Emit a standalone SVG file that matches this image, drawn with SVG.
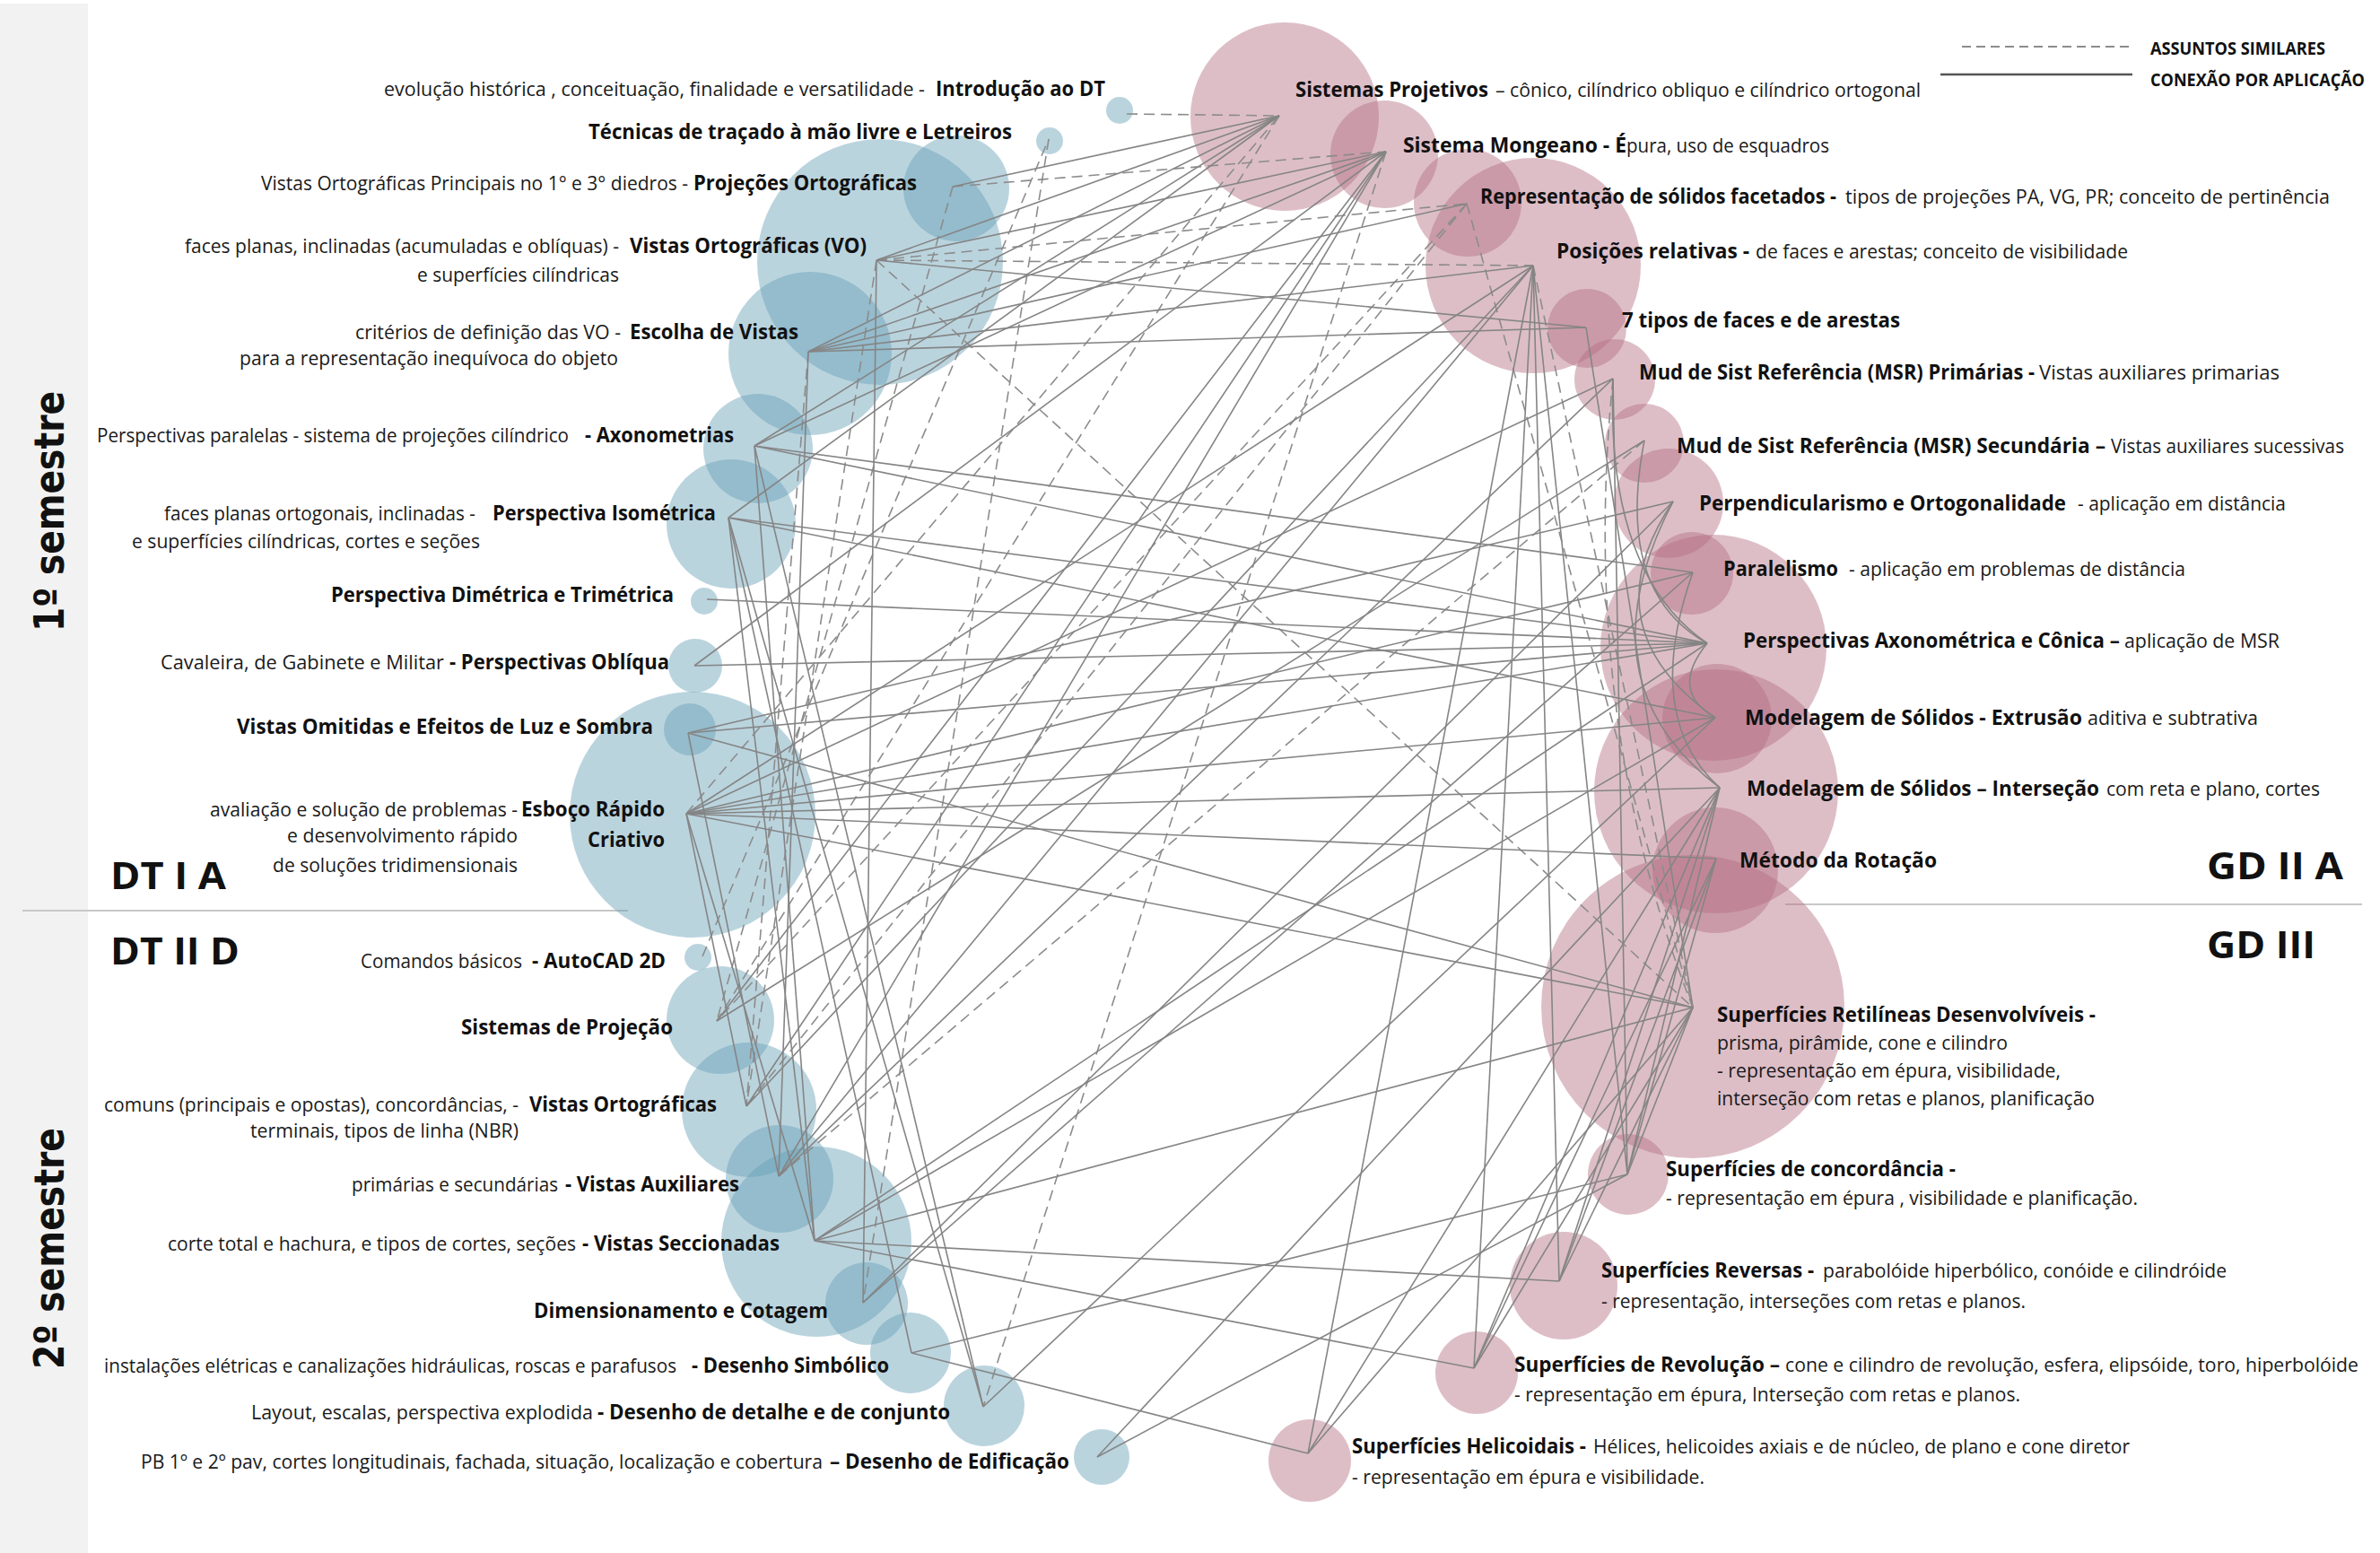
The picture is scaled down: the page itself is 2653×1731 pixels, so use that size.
<svg xmlns="http://www.w3.org/2000/svg" width="2653" height="1731" viewBox="0 0 2653 1731">
<style>
.t{font-family:'Open Sans','Noto Sans',sans-serif;font-size:22px;fill:#1a1a1a}
.b{font-family:'Open Sans','Noto Sans',sans-serif;font-size:23px;font-weight:700;fill:#111}
.big{font-family:'Open Sans','Noto Sans',sans-serif;font-size:42px;font-weight:700;fill:#111}
.sem{font-family:'DejaVu Sans',sans-serif;font-size:46px;font-weight:700;fill:#111}
.leg{font-family:'Open Sans','Noto Sans',sans-serif;font-size:19px;font-weight:700;fill:#111}
.cb{fill:rgb(102,159,182);fill-opacity:.45}
.cp{fill:rgb(180,110,130);fill-opacity:.45}
.s{stroke:#858585;stroke-width:1.6;fill:none}
.d{stroke:#8c8c8c;stroke-width:1.6;fill:none;stroke-dasharray:12 7}
</style>
<rect x="0" y="4" width="98" height="1727" fill="#f2f2f2"/>
<text class="sem" transform="translate(71,704) rotate(-90)" textLength="268" lengthAdjust="spacingAndGlyphs">1º semestre</text>
<text class="sem" transform="translate(71,1526) rotate(-90)" textLength="269" lengthAdjust="spacingAndGlyphs">2º semestre</text>
<line x1="25" y1="1015" x2="700" y2="1015" stroke="#c8c8c8" stroke-width="2"/>
<line x1="1990" y1="1008" x2="2633" y2="1008" stroke="#c8c8c8" stroke-width="2"/>

<g id="blue-circles">
<circle id="c-intro" class="cb" cx="1248" cy="123" r="15"/>
<circle id="c-tec" class="cb" cx="1170" cy="157" r="15"/>
<circle id="c-proj" class="cb" cx="1066" cy="210" r="59"/>
<circle id="c-vo" class="cb" cx="981" cy="292" r="137"/>
<circle id="c-esc" class="cb" cx="903" cy="394" r="91"/>
<circle id="c-axo" class="cb" cx="845" cy="500" r="61"/>
<circle id="c-iso" class="cb" cx="815" cy="584" r="72"/>
<circle id="c-dim" class="cb" cx="785" cy="670" r="15"/>
<circle id="c-obl" class="cb" cx="775" cy="742" r="30"/>
<circle id="c-esb" class="cb" cx="772" cy="908" r="137"/>
<circle id="c-omit" class="cb" cx="769" cy="813" r="29"/>
<circle id="c-auto" class="cb" cx="778" cy="1067" r="15"/>
<circle id="c-sisp" class="cb" cx="803" cy="1137" r="60"/>
<circle id="c-vo2" class="cb" cx="835" cy="1237" r="75"/>
<circle id="c-aux" class="cb" cx="869" cy="1314" r="60"/>
<circle id="c-sec" class="cb" cx="910" cy="1384" r="106"/>
<circle id="c-dimc" class="cb" cx="966" cy="1453" r="46"/>
<circle id="c-simb" class="cb" cx="1015" cy="1508" r="45"/>
<circle id="c-det" class="cb" cx="1097" cy="1567" r="45"/>
<circle id="c-edi" class="cb" cx="1228" cy="1624" r="31"/>
</g>
<g id="pink-circles">
<circle id="c-sp" class="cp" cx="1432" cy="130" r="105"/>
<circle id="c-mon" class="cp" cx="1543" cy="172" r="60"/>
<circle id="c-rep" class="cp" cx="1636" cy="226" r="60"/>
<circle id="c-pos" class="cp" cx="1709" cy="296" r="120"/>
<circle id="c-7t" class="cp" cx="1769" cy="366" r="44"/>
<circle id="c-msr1" class="cp" cx="1800" cy="423" r="45"/>
<circle id="c-msr2" class="cp" cx="1833" cy="494" r="44"/>
<circle id="c-perp" class="cp" cx="1860" cy="561" r="61"/>
<circle id="c-par" class="cp" cx="1886" cy="639" r="46"/>
<circle id="c-persp" class="cp" cx="1910" cy="722" r="126"/>
<circle id="c-ext" class="cp" cx="1914" cy="801" r="61"/>
<circle id="c-int" class="cp" cx="1913" cy="882" r="136"/>
<circle id="c-rot" class="cp" cx="1912" cy="970" r="70"/>
<circle id="c-ret" class="cp" cx="1887" cy="1122" r="169"/>
<circle id="c-conc" class="cp" cx="1815" cy="1309" r="45"/>
<circle id="c-rev" class="cp" cx="1743" cy="1433" r="60"/>
<circle id="c-revol" class="cp" cx="1646" cy="1530" r="46"/>
<circle id="c-hel" class="cp" cx="1460" cy="1628" r="46"/>
</g>

<g id="connectors">
<line class="d" x1="1256" y1="127" x2="1426" y2="129"/>
<line class="d" x1="1062" y1="208" x2="1545" y2="169"/>
<line class="d" x1="977" y1="290" x2="1635" y2="227"/>
<line class="d" x1="977" y1="290" x2="1709" y2="296"/>
<line class="d" x1="977" y1="290" x2="1887" y2="1123"/>
<line class="d" x1="1169" y1="155" x2="962" y2="1452"/>
<line class="d" x1="765" y1="907" x2="1426" y2="129"/>
<line class="d" x1="1062" y1="208" x2="799" y2="1138"/>
<line class="d" x1="977" y1="290" x2="832" y2="1233"/>
<line class="d" x1="901" y1="392" x2="832" y2="1233"/>
<line class="d" x1="1635" y1="227" x2="832" y2="1233"/>
<line class="d" x1="1635" y1="227" x2="799" y2="1138"/>
<line class="d" x1="1635" y1="227" x2="1887" y2="1123"/>
<line class="d" x1="783" y1="1066" x2="1169" y2="155"/>
<line class="d" x1="1545" y1="169" x2="1096" y2="1568"/>
<line class="d" x1="1426" y1="129" x2="799" y2="1138"/>
<line class="d" x1="1833" y1="491" x2="868" y2="1311"/>
<line class="d" x1="1709" y1="296" x2="1887" y2="1123"/>
<path class="d" d="M1798,422 Q1760,800 1887,1123"/>
<line class="s" x1="1062" y1="208" x2="1426" y2="129"/>
<line class="s" x1="977" y1="290" x2="1426" y2="129"/>
<line class="s" x1="901" y1="392" x2="1426" y2="129"/>
<line class="s" x1="841" y1="497" x2="1426" y2="129"/>
<line class="s" x1="977" y1="290" x2="1545" y2="169"/>
<line class="s" x1="977" y1="290" x2="1768" y2="365"/>
<line class="s" x1="977" y1="290" x2="962" y2="1452"/>
<line class="s" x1="901" y1="392" x2="1545" y2="169"/>
<line class="s" x1="901" y1="392" x2="1635" y2="227"/>
<line class="s" x1="901" y1="392" x2="1709" y2="296"/>
<line class="s" x1="901" y1="392" x2="1768" y2="365"/>
<line class="s" x1="901" y1="392" x2="868" y2="1311"/>
<line class="s" x1="841" y1="497" x2="1545" y2="169"/>
<line class="s" x1="841" y1="497" x2="1887" y2="638"/>
<line class="s" x1="841" y1="497" x2="1903" y2="717"/>
<line class="s" x1="841" y1="497" x2="1096" y2="1568"/>
<line class="s" x1="841" y1="497" x2="908" y2="1383"/>
<line class="s" x1="812" y1="577" x2="1903" y2="717"/>
<line class="s" x1="812" y1="577" x2="1912" y2="800"/>
<line class="s" x1="812" y1="577" x2="908" y2="1383"/>
<line class="s" x1="812" y1="577" x2="1096" y2="1568"/>
<line class="s" x1="812" y1="577" x2="1426" y2="129"/>
<line class="s" x1="788" y1="668" x2="1903" y2="717"/>
<line class="s" x1="774" y1="742" x2="1903" y2="717"/>
<line class="s" x1="774" y1="742" x2="1545" y2="169"/>
<line class="s" x1="767" y1="817" x2="1903" y2="717"/>
<line class="s" x1="767" y1="817" x2="1865" y2="559"/>
<line class="s" x1="767" y1="817" x2="1887" y2="1123"/>
<line class="s" x1="765" y1="907" x2="1903" y2="717"/>
<line class="s" x1="765" y1="907" x2="1912" y2="800"/>
<line class="s" x1="765" y1="907" x2="1917" y2="878"/>
<line class="s" x1="765" y1="907" x2="1913" y2="957"/>
<line class="s" x1="765" y1="907" x2="1887" y2="1123"/>
<line class="s" x1="765" y1="907" x2="1709" y2="296"/>
<line class="s" x1="765" y1="907" x2="1798" y2="422"/>
<line class="s" x1="765" y1="907" x2="1887" y2="638"/>
<line class="s" x1="765" y1="907" x2="908" y2="1383"/>
<line class="s" x1="765" y1="907" x2="832" y2="1233"/>
<line class="s" x1="799" y1="1138" x2="1545" y2="169"/>
<line class="s" x1="799" y1="1138" x2="1833" y2="491"/>
<line class="s" x1="832" y1="1233" x2="1709" y2="296"/>
<line class="s" x1="832" y1="1233" x2="1545" y2="169"/>
<line class="s" x1="868" y1="1311" x2="1545" y2="169"/>
<line class="s" x1="868" y1="1311" x2="1709" y2="296"/>
<line class="s" x1="868" y1="1311" x2="1798" y2="422"/>
<line class="s" x1="868" y1="1311" x2="767" y2="817"/>
<line class="s" x1="908" y1="1383" x2="1903" y2="717"/>
<line class="s" x1="908" y1="1383" x2="1912" y2="800"/>
<line class="s" x1="908" y1="1383" x2="1887" y2="1123"/>
<line class="s" x1="908" y1="1383" x2="1643" y2="1525"/>
<line class="s" x1="908" y1="1383" x2="1738" y2="1428"/>
<line class="s" x1="962" y1="1452" x2="1865" y2="559"/>
<line class="s" x1="962" y1="1452" x2="1887" y2="638"/>
<line class="s" x1="1016" y1="1508" x2="1814" y2="1309"/>
<line class="s" x1="1016" y1="1508" x2="1458" y2="1620"/>
<line class="s" x1="1016" y1="1508" x2="812" y2="577"/>
<line class="s" x1="1096" y1="1568" x2="1912" y2="800"/>
<line class="s" x1="1223" y1="1624" x2="1917" y2="878"/>
<line class="s" x1="1223" y1="1624" x2="1814" y2="1309"/>
<line class="s" x1="1709" y1="296" x2="1458" y2="1620"/>
<line class="s" x1="1709" y1="296" x2="1643" y2="1525"/>
<line class="s" x1="1709" y1="296" x2="1738" y2="1428"/>
<line class="s" x1="1709" y1="296" x2="1814" y2="1309"/>
<line class="s" x1="1768" y1="365" x2="1887" y2="1123"/>
<line class="s" x1="1798" y1="422" x2="1814" y2="1309"/>
<line class="s" x1="1917" y1="878" x2="1643" y2="1525"/>
<line class="s" x1="1917" y1="878" x2="1738" y2="1428"/>
<line class="s" x1="1917" y1="878" x2="1814" y2="1309"/>
<line class="s" x1="1917" y1="878" x2="1458" y2="1620"/>
<line class="s" x1="1913" y1="957" x2="1814" y2="1309"/>
<line class="s" x1="1913" y1="957" x2="1738" y2="1428"/>
<line class="s" x1="1913" y1="957" x2="1643" y2="1525"/>
<line class="s" x1="1887" y1="1123" x2="1814" y2="1309"/>
<line class="s" x1="1887" y1="1123" x2="1738" y2="1428"/>
<line class="s" x1="1887" y1="1123" x2="1643" y2="1525"/>
<line class="s" x1="1887" y1="1123" x2="1458" y2="1620"/>
<path class="s" d="M1798,422 Q1790,640 1903,717"/>
<path class="s" d="M1833,491 Q1800,660 1903,717"/>
<path class="s" d="M1865,559 Q1770,700 1912,800"/>
<path class="s" d="M1865,559 Q1760,760 1917,878"/>
<path class="s" d="M1887,638 Q1830,800 1917,878"/>
<path class="s" d="M1903,717 Q1860,770 1912,800"/>
</g>

<g id="legend">
<line x1="2187" y1="52" x2="2377" y2="52" stroke="#8c8c8c" stroke-width="2" stroke-dasharray="10 6"/>
<line x1="2163" y1="83" x2="2377" y2="83" stroke="#555" stroke-width="2.5"/>
<text class="leg" x="2397" y="61" textLength="195" lengthAdjust="spacingAndGlyphs">ASSUNTOS SIMILARES</text>
<text class="leg" x="2397" y="96" textLength="239" lengthAdjust="spacingAndGlyphs">CONEXÃO POR APLICAÇÃO</text>
</g>

<g id="section-labels">
<text class="big" x="123" y="991" textLength="129" lengthAdjust="spacingAndGlyphs">DT I A</text>
<text class="big" x="123" y="1075" textLength="144" lengthAdjust="spacingAndGlyphs">DT II D</text>
<text class="big" x="2460" y="980" textLength="152" lengthAdjust="spacingAndGlyphs">GD II A</text>
<text class="big" x="2460" y="1068" textLength="121" lengthAdjust="spacingAndGlyphs">GD III</text>
</g>

<g id="n-intro"><text class="t" x="428" y="107" textLength="603" lengthAdjust="spacingAndGlyphs">evolução histórica , conceituação, finalidade e versatilidade -</text><text class="b" x="1043" y="107" textLength="189" lengthAdjust="spacingAndGlyphs">Introdução ao DT</text></g>
<g id="n-tec"><text class="b" x="656" y="155" textLength="472" lengthAdjust="spacingAndGlyphs">Técnicas de traçado à mão livre e Letreiros</text></g>
<g id="n-proj"><text class="t" x="291" y="212" textLength="476" lengthAdjust="spacingAndGlyphs">Vistas Ortográficas Principais no 1° e 3° diedros -</text><text class="b" x="773" y="212" textLength="249" lengthAdjust="spacingAndGlyphs">Projeções Ortográficas</text></g>
<g id="n-vo"><text class="t" x="206" y="282" textLength="484" lengthAdjust="spacingAndGlyphs">faces planas, inclinadas (acumuladas e oblíquas) -</text><text class="b" x="702" y="282" textLength="264" lengthAdjust="spacingAndGlyphs">Vistas Ortográficas (VO)</text>
<text class="t" x="465" y="314" textLength="225" lengthAdjust="spacingAndGlyphs">e superfícies cilíndricas</text></g>
<g id="n-esc"><text class="t" x="396" y="378" textLength="296" lengthAdjust="spacingAndGlyphs">critérios de definição das VO -</text><text class="b" x="702" y="378" textLength="188" lengthAdjust="spacingAndGlyphs">Escolha de Vistas</text>
<text class="t" x="267" y="407" textLength="422" lengthAdjust="spacingAndGlyphs">para a representação inequívoca do objeto</text></g>
<g id="n-axo"><text class="t" x="108" y="493" textLength="526" lengthAdjust="spacingAndGlyphs">Perspectivas paralelas - sistema de projeções cilíndrico</text><text class="b" x="652" y="493" textLength="166" lengthAdjust="spacingAndGlyphs">- Axonometrias</text></g>
<g id="n-iso"><text class="t" x="183" y="580" textLength="347" lengthAdjust="spacingAndGlyphs">faces planas ortogonais, inclinadas -</text><text class="b" x="549" y="580" textLength="249" lengthAdjust="spacingAndGlyphs">Perspectiva Isométrica</text>
<text class="t" x="147" y="611" textLength="388" lengthAdjust="spacingAndGlyphs">e superfícies cilíndricas, cortes e seções</text></g>
<g id="n-dim"><text class="b" x="369" y="671" textLength="382" lengthAdjust="spacingAndGlyphs">Perspectiva Dimétrica e Trimétrica</text></g>
<g id="n-obl"><text class="t" x="179" y="746" textLength="316" lengthAdjust="spacingAndGlyphs">Cavaleira, de Gabinete e Militar</text><text class="b" x="501" y="746" textLength="245" lengthAdjust="spacingAndGlyphs">- Perspectivas Oblíqua</text></g>
<g id="n-omit"><text class="b" x="264" y="818" textLength="464" lengthAdjust="spacingAndGlyphs">Vistas Omitidas e Efeitos de Luz e Sombra</text></g>
<g id="n-esb"><text class="t" x="234" y="910" textLength="343" lengthAdjust="spacingAndGlyphs">avaliação e solução de problemas -</text><text class="b" x="581" y="910" textLength="160" lengthAdjust="spacingAndGlyphs">Esboço Rápido</text>
<text class="b" x="655" y="944" textLength="86" lengthAdjust="spacingAndGlyphs">Criativo</text>
<text class="t" x="320" y="939" textLength="257" lengthAdjust="spacingAndGlyphs">e desenvolvimento rápido</text>
<text class="t" x="304" y="972" textLength="273" lengthAdjust="spacingAndGlyphs">de soluções tridimensionais</text></g>
<g id="n-auto"><text class="t" x="402" y="1079" textLength="180" lengthAdjust="spacingAndGlyphs">Comandos básicos</text><text class="b" x="593" y="1079" textLength="149" lengthAdjust="spacingAndGlyphs">- AutoCAD 2D</text></g>
<g id="n-sisp"><text class="b" x="514" y="1153" textLength="236" lengthAdjust="spacingAndGlyphs">Sistemas de Projeção</text></g>
<g id="n-vo2"><text class="t" x="116" y="1239" textLength="462" lengthAdjust="spacingAndGlyphs">comuns (principais e opostas), concordâncias, -</text><text class="b" x="590" y="1239" textLength="209" lengthAdjust="spacingAndGlyphs">Vistas Ortográficas</text>
<text class="t" x="279" y="1268" textLength="299" lengthAdjust="spacingAndGlyphs">terminais, tipos de linha (NBR)</text></g>
<g id="n-aux"><text class="t" x="392" y="1328" textLength="230" lengthAdjust="spacingAndGlyphs">primárias e secundárias</text><text class="b" x="630" y="1328" textLength="194" lengthAdjust="spacingAndGlyphs">- Vistas Auxiliares</text></g>
<g id="n-sec"><text class="t" x="187" y="1394" textLength="455" lengthAdjust="spacingAndGlyphs">corte total e hachura, e tipos de cortes, seções</text><text class="b" x="649" y="1394" textLength="220" lengthAdjust="spacingAndGlyphs">- Vistas Seccionadas</text></g>
<g id="n-dimc"><text class="b" x="595" y="1469" textLength="328" lengthAdjust="spacingAndGlyphs">Dimensionamento e Cotagem</text></g>
<g id="n-simb"><text class="t" x="116" y="1530" textLength="638" lengthAdjust="spacingAndGlyphs">instalações elétricas e canalizações hidráulicas, roscas e parafusos</text><text class="b" x="771" y="1530" textLength="220" lengthAdjust="spacingAndGlyphs">- Desenho Simbólico</text></g>
<g id="n-det"><text class="t" x="280" y="1582" textLength="381" lengthAdjust="spacingAndGlyphs">Layout, escalas, perspectiva explodida</text><text class="b" x="666" y="1582" textLength="393" lengthAdjust="spacingAndGlyphs">- Desenho de detalhe e de conjunto</text></g>
<g id="n-edi"><text class="t" x="157" y="1637" textLength="760" lengthAdjust="spacingAndGlyphs">PB 1º e 2º pav, cortes longitudinais, fachada, situação, localização e cobertura</text><text class="b" x="925" y="1637" textLength="267" lengthAdjust="spacingAndGlyphs">– Desenho de Edificação</text></g>

<g id="n-sp"><text class="b" x="1444" y="108" textLength="215" lengthAdjust="spacingAndGlyphs">Sistemas Projetivos</text><text class="t" x="1667" y="108" textLength="474" lengthAdjust="spacingAndGlyphs">– cônico, cilíndrico obliquo e cilíndrico ortogonal</text></g>
<g id="n-mon"><text class="b" x="1564" y="170" textLength="249" lengthAdjust="spacingAndGlyphs">Sistema Mongeano - É</text><text class="t" x="1813" y="170" textLength="226" lengthAdjust="spacingAndGlyphs">pura, uso de esquadros</text></g>
<g id="n-rep"><text class="b" x="1650" y="227" textLength="397" lengthAdjust="spacingAndGlyphs">Representação de sólidos facetados -</text><text class="t" x="2057" y="227" textLength="540" lengthAdjust="spacingAndGlyphs">tipos de projeções PA, VG, PR; conceito de pertinência</text></g>
<g id="n-pos"><text class="b" x="1735" y="288" textLength="215" lengthAdjust="spacingAndGlyphs">Posições relativas  -</text><text class="t" x="1957" y="288" textLength="415" lengthAdjust="spacingAndGlyphs">de faces e arestas; conceito de visibilidade</text></g>
<g id="n-7t"><text class="b" x="1808" y="365" textLength="310" lengthAdjust="spacingAndGlyphs">7 tipos de faces e de arestas</text></g>
<g id="n-msr1"><text class="b" x="1827" y="423" textLength="441" lengthAdjust="spacingAndGlyphs">Mud de Sist Referência (MSR) Primárias -</text><text class="t" x="2273" y="423" textLength="268" lengthAdjust="spacingAndGlyphs">Vistas auxiliares primarias</text></g>
<g id="n-msr2"><text class="b" x="1869" y="505" textLength="478" lengthAdjust="spacingAndGlyphs">Mud de Sist Referência (MSR) Secundária –</text><text class="t" x="2353" y="505" textLength="260" lengthAdjust="spacingAndGlyphs">Vistas auxiliares sucessivas</text></g>
<g id="n-perp"><text class="b" x="1894" y="569" textLength="409" lengthAdjust="spacingAndGlyphs">Perpendicularismo e Ortogonalidade</text><text class="t" x="2316" y="569" textLength="232" lengthAdjust="spacingAndGlyphs">- aplicação em distância</text></g>
<g id="n-par"><text class="b" x="1921" y="642" textLength="128" lengthAdjust="spacingAndGlyphs">Paralelismo</text><text class="t" x="2061" y="642" textLength="375" lengthAdjust="spacingAndGlyphs">- aplicação em problemas de distância</text></g>
<g id="n-persp"><text class="b" x="1943" y="722" textLength="420" lengthAdjust="spacingAndGlyphs">Perspectivas Axonométrica e Cônica –</text><text class="t" x="2368" y="722" textLength="173" lengthAdjust="spacingAndGlyphs">aplicação de MSR</text></g>
<g id="n-ext"><text class="b" x="1945" y="808" textLength="376" lengthAdjust="spacingAndGlyphs">Modelagem de Sólidos -  Extrusão</text><text class="t" x="2327" y="808" textLength="190" lengthAdjust="spacingAndGlyphs">aditiva e subtrativa</text></g>
<g id="n-int"><text class="b" x="1947" y="887" textLength="393" lengthAdjust="spacingAndGlyphs">Modelagem de Sólidos – Interseção</text><text class="t" x="2348" y="887" textLength="238" lengthAdjust="spacingAndGlyphs">com reta e plano, cortes</text></g>
<g id="n-rot"><text class="b" x="1939" y="967" textLength="220" lengthAdjust="spacingAndGlyphs">Método da Rotação</text></g>
<g id="n-ret"><text class="b" x="1914" y="1139" textLength="422" lengthAdjust="spacingAndGlyphs">Superfícies Retilíneas Desenvolvíveis -</text>
<text class="t" x="1914" y="1170" textLength="324" lengthAdjust="spacingAndGlyphs">prisma, pirâmide, cone e cilindro</text>
<text class="t" x="1914" y="1201" textLength="383" lengthAdjust="spacingAndGlyphs">- representação em épura, visibilidade,</text>
<text class="t" x="1914" y="1232" textLength="421" lengthAdjust="spacingAndGlyphs">interseção com retas e planos, planificação</text></g>
<g id="n-conc"><text class="b" x="1857" y="1311" textLength="323" lengthAdjust="spacingAndGlyphs">Superfícies de concordância -</text>
<text class="t" x="1857" y="1343" textLength="526" lengthAdjust="spacingAndGlyphs">- representação em épura , visibilidade e planificação.</text></g>
<g id="n-rev"><text class="b" x="1785" y="1424" textLength="237" lengthAdjust="spacingAndGlyphs">Superfícies Reversas -</text><text class="t" x="2032" y="1424" textLength="450" lengthAdjust="spacingAndGlyphs">parabolóide hiperbólico, conóide e cilindróide</text>
<text class="t" x="1785" y="1458" textLength="473" lengthAdjust="spacingAndGlyphs">- representação, interseções com retas e planos.</text></g>
<g id="n-revol"><text class="b" x="1688" y="1529" textLength="296" lengthAdjust="spacingAndGlyphs">Superfícies de Revolução –</text><text class="t" x="1990" y="1529" textLength="639" lengthAdjust="spacingAndGlyphs">cone e cilindro de revolução, esfera, elipsóide, toro, hiperbolóide</text>
<text class="t" x="1688" y="1562" textLength="564" lengthAdjust="spacingAndGlyphs">- representação em épura, Interseção com retas e planos.</text></g>
<g id="n-hel"><text class="b" x="1507" y="1620" textLength="261" lengthAdjust="spacingAndGlyphs">Superfícies Helicoidais -</text><text class="t" x="1776" y="1620" textLength="598" lengthAdjust="spacingAndGlyphs">Hélices, helicoides axiais e de núcleo, de plano e cone diretor</text>
<text class="t" x="1507" y="1654" textLength="393" lengthAdjust="spacingAndGlyphs">- representação em épura e visibilidade.</text></g>
</svg>
